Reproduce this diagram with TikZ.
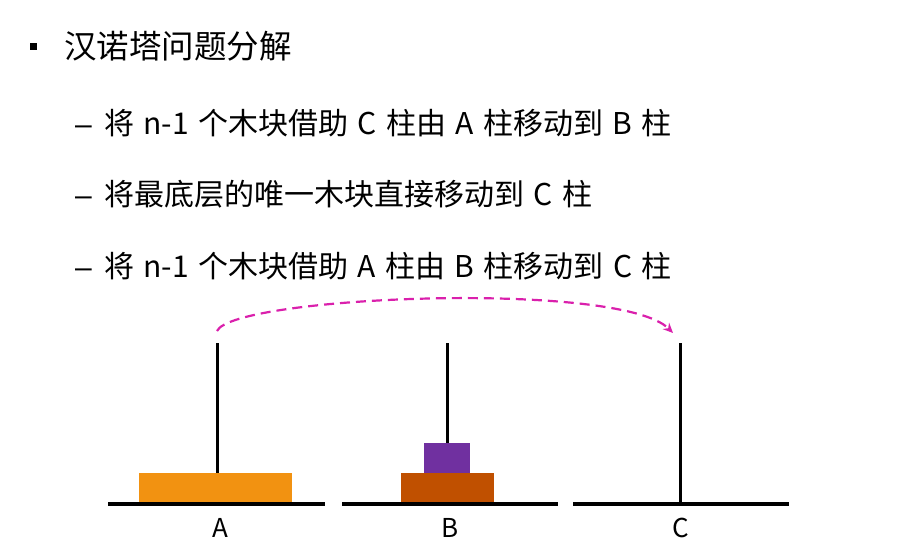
\documentclass[tikz,border=0pt]{standalone}
\usepackage{fontspec}
\setmainfont{Noto Sans CJK SC}[WordSpace=1.4]
\newfontfamily\dashfont{Liberation Sans}
\definecolor{diskorange}{RGB}{242,146,17}
\definecolor{diskbrown}{RGB}{192,80,0}
\definecolor{diskpurple}{RGB}{112,48,160}
\definecolor{movepink}{RGB}{218,32,172}
\usetikzlibrary{arrows.meta}
\tikzset{
    steptext/.style={anchor=base west, inner sep=0pt, font=\fontsize{30}{30}\selectfont},
    dashtext/.style={anchor=base west, inner sep=0pt, font=\dashfont\fontsize{30}{30}\selectfont},
    pegname/.style={anchor=base, inner sep=0pt, font=\fontsize{26}{26}\selectfont},
    pegline/.style={line width=3pt},
    baseline/.style={line width=4pt},
    moveline/.style={movepink, line width=2.2pt, dash pattern=on 10pt off 6pt, -{Stealth[length=10pt,width=9pt]}}
}
\begin{document}
\begin{tikzpicture}[x=1pt, y=-1pt]
    \useasboundingbox (0,0) rectangle (918,543);
    % heading
    \node[fill=black, minimum size=7pt, inner sep=0pt] (dot) at (33,47) {};
    \node[anchor=base west, inner sep=0pt, font=\fontsize{32.5}{32.5}\selectfont] (title) at (64,59) {汉诺塔问题分解};
    % the three steps
    \node[dashtext] (dasha) at (75,134) {–};
    \node[steptext] (stepa) at (104,134) {将 n-1 个木块借助 C 柱由 A 柱移动到 B 柱};
    \node[dashtext] (dashb) at (75,205) {–};
    \node[steptext] (stepb) at (104,205) {将最底层的唯一木块直接移动到 C 柱};
    \node[dashtext] (dashc) at (75,277) {–};
    \node[steptext] (stepc) at (104,277) {将 n-1 个木块借助 A 柱由 B 柱移动到 C 柱};
    % pegs
    \draw[pegline] (217,343) -- (217,503);
    \draw[pegline] (447,343) -- (447,503);
    \draw[pegline] (680,343) -- (680,503);
    % disks
    \fill[diskorange] (139,473) rectangle (292,503);
    \fill[diskbrown] (401,473) rectangle (494,503);
    \fill[diskpurple] (424,443) rectangle (470,473);
    % bases
    \draw[baseline] (108,504) -- (325,504);
    \draw[baseline] (342,504) -- (558,504);
    \draw[baseline] (573,504) -- (789,504);
    \node[pegname] (pega) at (220,537) {A};
    \node[pegname] (pegb) at (450,537) {B};
    \node[pegname] (pegc) at (681,537) {C};
    % the move
    \coordinate (from) at (217,331);
    \coordinate (to) at (673,333);
    \draw[moveline] (from) .. controls (233,296) and (620,280) .. (to);
\end{tikzpicture}
\end{document}
